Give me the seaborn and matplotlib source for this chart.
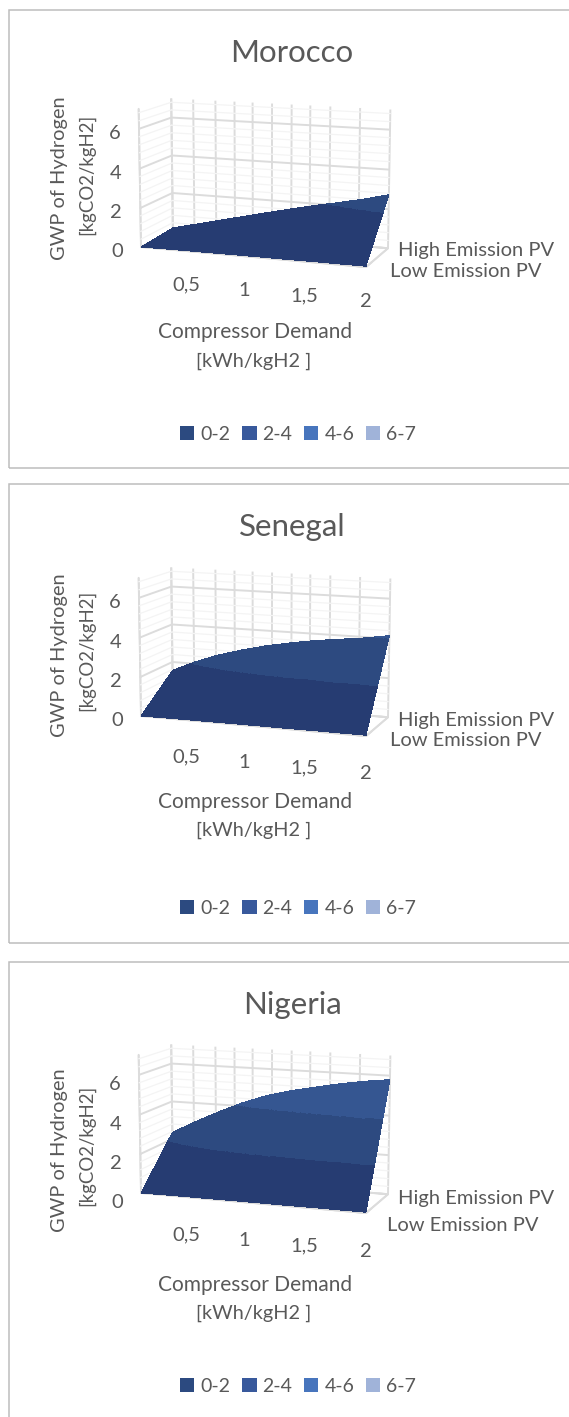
import numpy as np
import matplotlib
matplotlib.use("Agg")
import matplotlib.pyplot as plt
from matplotlib.patches import Rectangle, Patch
from matplotlib.transforms import Affine2D
from mpl_toolkits.mplot3d import proj3d
import seaborn as sns

# ---- data ----
countries = ["Morocco", "Senegal", "Nigeria"]
compressor = [0.1, 0.31, 0.52, 0.73, 0.94, 1.16, 1.37, 1.58, 1.79, 2.0]
low_morocco = [0.0, 0.01, 0.02, 0.02, 0.03, 0.03, 0.03, 0.04, 0.04, 0.04]
high_morocco = [0.12, 0.42, 0.72, 1.02, 1.32, 1.62, 1.9, 2.15, 2.42, 2.73]
low_senegal = [0.0, 0.01, 0.02, 0.02, 0.03, 0.03, 0.03, 0.04, 0.04, 0.04]
high_senegal = [1.55, 2.1, 2.55, 2.9, 3.2, 3.45, 3.65, 3.8, 3.95, 4.15]
low_nigeria = [0.0, 0.01, 0.02, 0.02, 0.03, 0.03, 0.03, 0.04, 0.04, 0.04]
high_nigeria = [2.35, 3.0, 3.6, 4.15, 4.6, 4.95, 5.2, 5.45, 5.65, 5.8]
series_labels = ["Low Emission PV", "High Emission PV"]
x_ticks = [0.1, 0.3, 0.5, 0.67, 0.83, 1.0, 1.17, 1.33, 1.5, 1.75, 2.0]
x_labels = ["", "", "0,5", "", "", "1", "", "", "1,5", "", "2"]
z_ticks = [0, 2, 4, 6]
z_faint = [0.4, 0.8, 1.2, 1.6, 2.4, 2.8, 3.2, 3.6, 4.4, 4.8, 5.2, 5.6, 6.4, 6.8]
band_edges = [0, 2, 4, 6, 7]
band_labels = ["0-2", "2-4", "4-6", "6-7"]
legend_colors = ["#2c4a80", "#38599c", "#4775bd", "#a0b3d9"]
surface_colors = ["#263c72", "#2d4a80", "#355691", "#a0b3d9"]
lows = [low_morocco, low_senegal, low_nigeria]
highs = [high_morocco, high_senegal, high_nigeria]

# ---- layout in reference pixels ----
W, H = 569, 1417
panel_boxes = [(10, 468), (484, 943), (962, 1425)]
corner_y = [247, 716, 1193]
title_y = [53, 527, 1005]
xlabel_y = [(332, 361), (802, 830), (1285, 1313)]
gwp_y = [178, 655, 1150]
kg_y = [174, 650, 1145]
legend_y = [434, 908, 1386]
FRONT_LEFT_X, FRONT_WIDTH = 141, 227
x_shift = [(3, -9), (3, -12), (3, -13)]
z_shift = [(-3, 4), (-3, 4), (-3, -1)]
high_shift = [(-6, 18), (-6, 17), (-6, 16)]
low_shift = [(7, 16), (7, 16), (4, 8)]
tick_out = {"x": 3.0, "y": 0.5, "z": 0.3}

TXT = "#595959"
GRID = "#dcdcdc"
sns.set_theme(style="white", rc={"grid.color": GRID, "grid.linewidth": 1.4})
plt.rcParams["font.family"] = ["Lato", "DejaVu Sans"]

fig = plt.figure(figsize=(W / 100, H / 100), dpi=100, facecolor="white")


def fx(p):
    return p / W


def fy(p):
    return 1 - p / H


def nudge(label, axes, dx, dy):
    # Axis3D resets label transforms on each draw, so pin the offset on the label
    label.get_transform = lambda: axes.transData + Affine2D().translate(dx, dy)


for top, bottom in panel_boxes:
    fig.add_artist(Rectangle((fx(9), fy(bottom)), fx(W + 20), (bottom - top) / H,
                             transform=fig.transFigure, fill=False,
                             edgecolor="#bdbdbd", linewidth=1.1))

cmap_vals = np.array([matplotlib.colors.to_rgba(c) for c in surface_colors])
ASPECT = (241, 82, 144)

for i, name in enumerate(countries):
    top, bottom = panel_boxes[i]
    ax = fig.add_axes([fx(10), fy(top + 440), 540 / W, 440 / H],
                      projection="3d", facecolor="none")
    ax.set_proj_type("persp", focal_length=0.6)
    ax.view_init(elev=11, azim=-70)
    ax.set_box_aspect(ASPECT, zoom=1.0)

    for zv in z_faint:
        ax.plot([compressor[0], compressor[-1]], [1, 1], [zv, zv], color="#f4f4f4", lw=0.9, zorder=0)
        ax.plot([compressor[0], compressor[0]], [0, 1], [zv, zv], color="#f4f4f4", lw=0.9, zorder=0)

    # facets of the surface, split along the band limits
    xf = np.linspace(compressor[0], compressor[-1], 220)
    lo = np.interp(xf, compressor, lows[i])
    hi = np.interp(xf, compressor, highs[i])
    v = np.linspace(0, 1, 130)
    X, Y = np.meshgrid(xf, v)
    Z = lo[None, :] + (hi - lo)[None, :] * v[:, None]
    zc = 0.25 * (Z[:-1, :-1] + Z[1:, :-1] + Z[:-1, 1:] + Z[1:, 1:])
    idx = np.clip(np.digitize(zc, band_edges) - 1, 0, 3)
    ax.plot_surface(X, Y, Z, facecolors=cmap_vals[idx], rstride=1, cstride=1,
                    shade=False, linewidth=0, antialiased=False, zorder=5)

    ax.set_xlim(compressor[0], compressor[-1])
    ax.set_ylim(0, 1)
    ax.set_zlim(0, 7)
    ax.set_xticks(x_ticks, x_labels)
    ax.set_yticks([0, 1], series_labels)
    ax.set_zticks(z_ticks, [str(t) for t in z_ticks])
    ax.tick_params(axis="x", labelsize=14.5, labelcolor=TXT, pad=9, color=GRID, width=1.4)
    ax.tick_params(axis="y", labelsize=14.5, labelcolor=TXT, pad=4, color=GRID, width=1.4)
    ax.tick_params(axis="z", labelsize=14.5, labelcolor=TXT, pad=6, color=GRID, width=1.4)
    for lab in ax.get_yticklabels():
        lab.set_ha("left")
    ax.zaxis.set_ticks_position("lower")
    for key, axis in (("x", ax.xaxis), ("y", ax.yaxis), ("z", ax.zaxis)):
        axis.set_pane_color((1, 1, 1, 0))
        axis.pane.set_edgecolor((1, 1, 1, 0))
        axis.line.set_color(GRID)
        axis._axinfo["tick"]["color"] = GRID
        axis._axinfo["tick"]["outward_factor"] = tick_out[key]
        axis._axinfo["tick"]["inward_factor"] = 0.0
        axis._axinfo["grid"]["color"] = GRID
    ax.grid(True)

    # fit the projected box on the reference front edge
    def corners():
        fig.canvas.draw()
        pts = []
        for px in (compressor[0], compressor[-1]):
            xs, ys, _ = proj3d.proj_transform(px, 0, 0, ax.get_proj())
            pts.append(ax.transData.transform((xs, ys)))
        return np.array(pts)

    p = corners()
    ratio = FRONT_WIDTH / (p[1, 0] - p[0, 0])
    ax.set_box_aspect(ASPECT, zoom=ratio)
    p = corners()
    pos = ax.get_position(original=True)
    ax.set_position([pos.x0 + (FRONT_LEFT_X - p[0, 0]) / W,
                     pos.y0 + ((H - corner_y[i]) - p[0, 1]) / H,
                     pos.width, pos.height])
    fig.canvas.draw()

    # tick labels stay on the axes, nudged to the reference place
    for tick in ax.xaxis.get_major_ticks():
        nudge(tick.label1, ax, *x_shift[i])
    for tick in ax.zaxis.get_major_ticks():
        nudge(tick.label1, ax, *z_shift[i])
    yt = ax.yaxis.get_major_ticks()
    nudge(yt[0].label1, ax, *low_shift[i])
    nudge(yt[1].label1, ax, *high_shift[i])

    ax.text2D(fx(292), fy(title_y[i]), name, transform=fig.transFigure,
              ha="center", va="center", fontsize=22.5, color="#595959")
    fig.text(fx(59), fy(gwp_y[i]), "GWP of Hydrogen", rotation=90, ha="center",
             va="center", fontsize=14.4, color=TXT)
    fig.text(fx(87), fy(kg_y[i]), "[kgCO2/kgH2]", rotation=90, ha="center",
             va="center", fontsize=13.4, color=TXT)
    fig.text(fx(255), fy(xlabel_y[i][0]), "Compressor Demand", ha="center", va="center",
             fontsize=15, color=TXT)
    fig.text(fx(254), fy(xlabel_y[i][1]), "[kWh/kgH2 ]", ha="center", va="center",
             fontsize=14.3, color=TXT)
    handles = [Patch(facecolor=c, edgecolor="none", label=l)
               for c, l in zip(legend_colors, band_labels)]
    fig.legend(handles=handles, loc="center", ncol=4, frameon=False,
               bbox_to_anchor=(fx(298), fy(legend_y[i])), fontsize=14,
               labelcolor=TXT, handlelength=0.75, handleheight=0.75,
               handletextpad=0.3, columnspacing=0.6)

fig.savefig("out.png", dpi=100)
